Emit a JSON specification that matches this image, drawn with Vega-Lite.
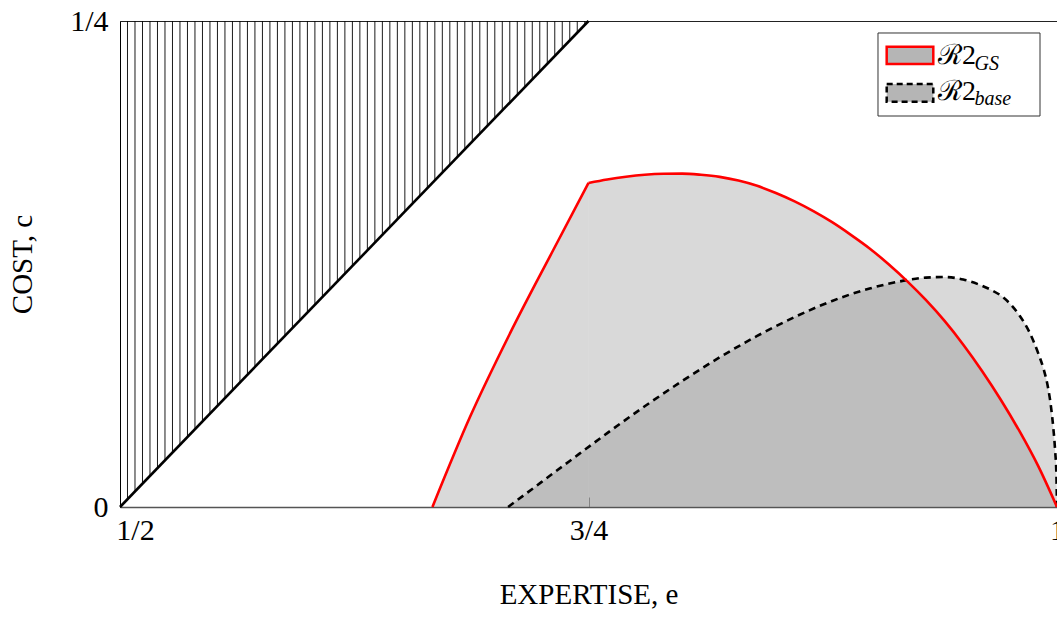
{
  "$schema": "https://vega.github.io/schema/vega-lite/v6.json",
  "width": 937,
  "height": 486,
  "autosize": {"type": "none"},
  "padding": {"left": 120, "top": 21, "right": 0, "bottom": 111},
  "background": "white",
  "config": {
    "view": {"stroke": "#222", "strokeWidth": 1},
    "font": "Liberation Serif",
    "text": {"font": "Liberation Serif"}
  },
  "datasets": {
    "one": [{}],
    "hatch": [
      {"e":0.504,"lo":0.004},{"e":0.508,"lo":0.008},{"e":0.512,"lo":0.012},{"e":0.516,"lo":0.016},{"e":0.520,"lo":0.020},
      {"e":0.524,"lo":0.024},{"e":0.528,"lo":0.028},{"e":0.532,"lo":0.032},{"e":0.536,"lo":0.036},{"e":0.540,"lo":0.040},
      {"e":0.544,"lo":0.044},{"e":0.548,"lo":0.048},{"e":0.552,"lo":0.052},{"e":0.556,"lo":0.056},{"e":0.560,"lo":0.060},
      {"e":0.564,"lo":0.064},{"e":0.568,"lo":0.068},{"e":0.572,"lo":0.072},{"e":0.576,"lo":0.076},{"e":0.580,"lo":0.080},
      {"e":0.584,"lo":0.084},{"e":0.588,"lo":0.088},{"e":0.592,"lo":0.092},{"e":0.596,"lo":0.096},{"e":0.600,"lo":0.100},
      {"e":0.604,"lo":0.104},{"e":0.608,"lo":0.108},{"e":0.612,"lo":0.112},{"e":0.616,"lo":0.116},{"e":0.620,"lo":0.120},
      {"e":0.624,"lo":0.124},{"e":0.628,"lo":0.128},{"e":0.632,"lo":0.132},{"e":0.636,"lo":0.136},{"e":0.640,"lo":0.140},
      {"e":0.644,"lo":0.144},{"e":0.648,"lo":0.148},{"e":0.652,"lo":0.152},{"e":0.656,"lo":0.156},{"e":0.660,"lo":0.160},
      {"e":0.664,"lo":0.164},{"e":0.668,"lo":0.168},{"e":0.672,"lo":0.172},{"e":0.676,"lo":0.176},{"e":0.680,"lo":0.180},
      {"e":0.684,"lo":0.184},{"e":0.688,"lo":0.188},{"e":0.692,"lo":0.192},{"e":0.696,"lo":0.196},{"e":0.700,"lo":0.200},
      {"e":0.704,"lo":0.204},{"e":0.708,"lo":0.208},{"e":0.712,"lo":0.212},{"e":0.716,"lo":0.216},{"e":0.720,"lo":0.220},
      {"e":0.724,"lo":0.224},{"e":0.728,"lo":0.228},{"e":0.732,"lo":0.232},{"e":0.736,"lo":0.236},{"e":0.740,"lo":0.240},
      {"e":0.744,"lo":0.244},{"e":0.748,"lo":0.248}
    ],
    "curves": [
      {"s":"GS","seg":"a","e":0.6667,"c":0},
      {"s":"GS","seg":"a","e":0.6868,"c":0.0464},
      {"s":"GS","seg":"a","e":0.7081,"c":0.0893},
      {"s":"GS","seg":"a","e":0.7312,"c":0.1322},
      {"s":"GS","seg":"a","e":0.75,"c":0.1667},
      {"s":"GS","seg":"b","e":0.75,"c":0.1667},
      {"s":"GS","seg":"b","e":0.76,"c":0.1685},
      {"s":"GS","seg":"b","e":0.77,"c":0.1699},
      {"s":"GS","seg":"b","e":0.78,"c":0.1709},
      {"s":"GS","seg":"b","e":0.79,"c":0.1714},
      {"s":"GS","seg":"b","e":0.80,"c":0.1715},
      {"s":"GS","seg":"b","e":0.81,"c":0.1709},
      {"s":"GS","seg":"b","e":0.82,"c":0.1698},
      {"s":"GS","seg":"b","e":0.83,"c":0.1679},
      {"s":"GS","seg":"b","e":0.84,"c":0.1652},
      {"s":"GS","seg":"b","e":0.85,"c":0.1615},
      {"s":"GS","seg":"b","e":0.86,"c":0.1572},
      {"s":"GS","seg":"b","e":0.87,"c":0.1522},
      {"s":"GS","seg":"b","e":0.88,"c":0.1465},
      {"s":"GS","seg":"b","e":0.89,"c":0.1400},
      {"s":"GS","seg":"b","e":0.90,"c":0.1330},
      {"s":"GS","seg":"b","e":0.91,"c":0.1250},
      {"s":"GS","seg":"b","e":0.92,"c":0.1162},
      {"s":"GS","seg":"b","e":0.93,"c":0.1065},
      {"s":"GS","seg":"b","e":0.94,"c":0.0957},
      {"s":"GS","seg":"b","e":0.95,"c":0.0835},
      {"s":"GS","seg":"b","e":0.96,"c":0.0700},
      {"s":"GS","seg":"b","e":0.97,"c":0.0552},
      {"s":"GS","seg":"b","e":0.98,"c":0.0390},
      {"s":"GS","seg":"b","e":0.99,"c":0.0210},
      {"s":"GS","seg":"b","e":1.0,"c":0},
      {"s":"base","seg":"c","e":0.7071,"c":0},
      {"s":"base","seg":"c","e":0.72,"c":0.0093},
      {"s":"base","seg":"c","e":0.74,"c":0.0237},
      {"s":"base","seg":"c","e":0.76,"c":0.0380},
      {"s":"base","seg":"c","e":0.78,"c":0.0518},
      {"s":"base","seg":"c","e":0.80,"c":0.0648},
      {"s":"base","seg":"c","e":0.82,"c":0.0770},
      {"s":"base","seg":"c","e":0.84,"c":0.0880},
      {"s":"base","seg":"c","e":0.86,"c":0.0977},
      {"s":"base","seg":"c","e":0.88,"c":0.1060},
      {"s":"base","seg":"c","e":0.90,"c":0.1124},
      {"s":"base","seg":"c","e":0.92,"c":0.1167},
      {"s":"base","seg":"c","e":0.93,"c":0.1180},
      {"s":"base","seg":"c","e":0.94,"c":0.1183},
      {"s":"base","seg":"c","e":0.95,"c":0.1170},
      {"s":"base","seg":"c","e":0.96,"c":0.1138},
      {"s":"base","seg":"c","e":0.965,"c":0.1116},
      {"s":"base","seg":"c","e":0.97,"c":0.1088},
      {"s":"base","seg":"c","e":0.975,"c":0.1045},
      {"s":"base","seg":"c","e":0.98,"c":0.0985},
      {"s":"base","seg":"c","e":0.985,"c":0.0905},
      {"s":"base","seg":"c","e":0.99,"c":0.0790},
      {"s":"base","seg":"c","e":0.993,"c":0.0705},
      {"s":"base","seg":"c","e":0.995,"c":0.0625},
      {"s":"base","seg":"c","e":0.997,"c":0.0500},
      {"s":"base","seg":"c","e":0.998,"c":0.0410},
      {"s":"base","seg":"c","e":0.999,"c":0.0290},
      {"s":"base","seg":"c","e":0.9997,"c":0.0160},
      {"s":"base","seg":"c","e":1.0,"c":0}
    ]
  },
  "layer": [
    {
      "data": {"name": "hatch"},
      "mark": {"type": "rule", "color": "black", "strokeWidth": 0.9},
      "encoding": {
        "x": {
          "field": "e", "type": "quantitative",
          "scale": {"domain": [0.5, 1], "nice": false, "zero": false},
          "axis": {
            "values": [0.5, 0.75, 1],
            "labelExpr": "datum.value == 0.5 ? '1/2' : datum.value == 0.75 ? '3/4' : '1'",
            "labelFont": "Liberation Serif", "labelFontSize": 30, "labelColor": "black",
            "labelFlush": false, "labelPadding": 18, "labelOverlap": false,
            "labelOffset": {"condition": {"test": "datum.value == 0.5", "value": 15}, "value": 0},
            "ticks": true, "tickSize": -10, "tickColor": "#888", "tickWidth": 1,
            "domainColor": "#555", "domainWidth": 1.5,
            "grid": false,
            "title": "EXPERTISE, e", "titleFont": "Liberation Serif", "titleFontSize": 29,
            "titleFontWeight": "normal", "titleColor": "black", "titlePadding": 35
          }
        },
        "y": {
          "field": "lo", "type": "quantitative",
          "scale": {"domain": [0, 0.25], "nice": false, "zero": false},
          "axis": {
            "values": [0, 0.25],
            "labelExpr": "datum.value == 0 ? '0' : '1/4'",
            "labelFont": "Liberation Serif", "labelFontSize": 30, "labelColor": "black",
            "labelFlush": false, "labelPadding": 12, "labelOverlap": false,
            "ticks": false, "tickSize": 0,
            "domainColor": "black", "domainWidth": 1,
            "grid": false,
            "title": "COST, c", "titleFont": "Liberation Serif", "titleFontSize": 29,
            "titleFontWeight": "normal", "titleColor": "black", "titlePadding": 32
          }
        },
        "y2": {"datum": 0.25}
      }
    },
    {
      "data": {"name": "one"},
      "mark": {"type": "rule", "color": "black", "strokeWidth": 2.6},
      "encoding": {
        "x": {"datum": 0.5, "type": "quantitative"},
        "y": {"datum": 0, "type": "quantitative"},
        "x2": {"datum": 0.75},
        "y2": {"datum": 0.25}
      }
    },
    {
      "data": {"name": "curves"},
      "mark": {"type": "area", "interpolate": "monotone", "fill": "#808080", "fillOpacity": 0.3},
      "encoding": {
        "x": {"field": "e", "type": "quantitative"},
        "y": {"field": "c", "type": "quantitative", "stack": null},
        "detail": {"field": "seg"}
      }
    },
    {
      "data": {"name": "curves"},
      "transform": [{"filter": "datum.s == 'base'"}],
      "mark": {"type": "line", "interpolate": "monotone", "color": "black", "strokeWidth": 2.6, "strokeDash": [7, 5]},
      "encoding": {
        "x": {"field": "e", "type": "quantitative"},
        "y": {"field": "c", "type": "quantitative"},
        "detail": {"field": "seg"}
      }
    },
    {
      "data": {"name": "curves"},
      "transform": [{"filter": "datum.s == 'GS'"}],
      "mark": {"type": "line", "interpolate": "monotone", "color": "#ff0000", "strokeWidth": 2.6},
      "encoding": {
        "x": {"field": "e", "type": "quantitative"},
        "y": {"field": "c", "type": "quantitative"},
        "detail": {"field": "seg"}
      }
    },
    {
      "data": {"name": "one"},
      "mark": {"type": "rect", "fill": "white", "stroke": "#333", "strokeWidth": 1},
      "encoding": {
        "x": {"datum": 0.90448, "type": "quantitative"},
        "x2": {"datum": 0.99093},
        "y": {"datum": 0.24383, "type": "quantitative"},
        "y2": {"datum": 0.20113}
      }
    },
    {
      "data": {"name": "one"},
      "mark": {"type": "rect", "fill": "#b5b5b5", "stroke": "#ff0000", "strokeWidth": 2.5},
      "encoding": {
        "x": {"datum": 0.90912, "type": "quantitative"},
        "x2": {"datum": 0.93399},
        "y": {"datum": 0.23678, "type": "quantitative"},
        "y2": {"datum": 0.22788}
      }
    },
    {
      "data": {"name": "one"},
      "mark": {"type": "rect", "fill": "#b5b5b5", "stroke": "black", "strokeWidth": 2.5, "strokeDash": [6, 4]},
      "encoding": {
        "x": {"datum": 0.90912, "type": "quantitative"},
        "x2": {"datum": 0.93399},
        "y": {"datum": 0.21759, "type": "quantitative"},
        "y2": {"datum": 0.20849}
      }
    },
    {
      "data": {"name": "one"},
      "mark": {"type": "text", "align": "left", "baseline": "alphabetic", "fontSize": 28, "color": "black"},
      "encoding": {
        "x": {"datum": 0.9365, "type": "quantitative"},
        "y": {"datum": 0.22788, "type": "quantitative"},
        "text": {"value": "ℛ2"}
      }
    },
    {
      "data": {"name": "one"},
      "mark": {"type": "text", "align": "left", "baseline": "alphabetic", "fontSize": 28, "color": "black"},
      "encoding": {
        "x": {"datum": 0.9365, "type": "quantitative"},
        "y": {"datum": 0.20936, "type": "quantitative"},
        "text": {"value": "ℛ2"}
      }
    },
    {
      "data": {"name": "one"},
      "mark": {"type": "text", "align": "left", "baseline": "alphabetic", "fontSize": 20, "fontStyle": "italic", "color": "black"},
      "encoding": {
        "x": {"datum": 0.9560, "type": "quantitative"},
        "y": {"datum": 0.2248, "type": "quantitative"},
        "text": {"value": "GS"}
      }
    },
    {
      "data": {"name": "one"},
      "mark": {"type": "text", "align": "left", "baseline": "alphabetic", "fontSize": 20, "fontStyle": "italic", "color": "black"},
      "encoding": {
        "x": {"datum": 0.9560, "type": "quantitative"},
        "y": {"datum": 0.2068, "type": "quantitative"},
        "text": {"value": "base"}
      }
    }
  ]
}
